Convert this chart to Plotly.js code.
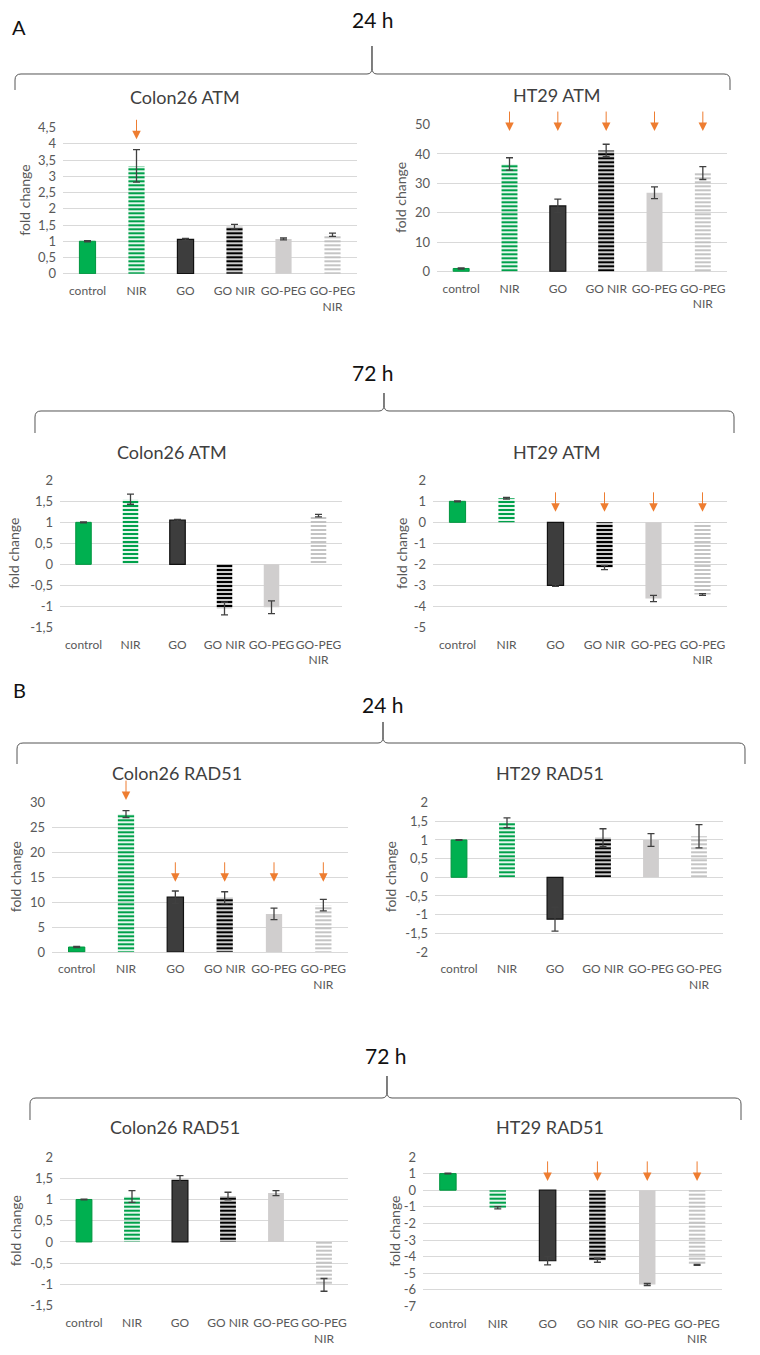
<!DOCTYPE html>
<html><head><meta charset="utf-8">
<script src="https://cdn.plot.ly/plotly-3.0.1.min.js"></script>
<style>html,body{margin:0;padding:0;background:#fff}#chart{width:760px;height:1355px}</style>
</head><body><div id="chart"></div>
<script>
// ---------- DATA ----------
const categories = ['control', 'NIR', 'GO', 'GO NIR', 'GO-PEG', 'GO-PEG NIR'];
const categoryLabels = ['control', 'NIR', 'GO', 'GO NIR', 'GO-PEG', 'GO-PEG<br>NIR'];

const atm24Colon26 = [1.0, 3.32, 1.06, 1.45, 1.07, 1.2];
const atm24Colon26Err = [0.02, 0.5, 0.03, 0.07, 0.03, 0.05];
const atm24HT29 = [1.0, 36.6, 22.3, 41.2, 26.8, 33.5];
const atm24HT29Err = [0.2, 2.1, 2.3, 2.1, 2.0, 2.2];
const atm72Colon26 = [1.0, 1.55, 1.05, -1.05, -1.02, 1.16];
const atm72Colon26Err = [0.01, 0.12, 0.02, 0.15, 0.15, 0.03];
const atm72HT29 = [1.0, 1.15, -3.0, -2.15, -3.62, -3.43];
const atm72HT29Err = [0.02, 0.04, 0.04, 0.1, 0.15, 0.04];
const rad24Colon26 = [1.0, 27.7, 11.0, 10.9, 7.65, 9.4];
const rad24Colon26Err = [0.1, 0.7, 1.25, 1.2, 1.15, 1.15];
const rad24HT29 = [1.0, 1.46, -1.12, 1.06, 1.0, 1.1];
const rad24HT29Err = [0.01, 0.13, 0.32, 0.24, 0.17, 0.31];
const rad72Colon26 = [1.0, 1.07, 1.45, 1.08, 1.15, -1.01];
const rad72Colon26Err = [0.01, 0.14, 0.11, 0.09, 0.06, 0.15];
const rad72HT29 = [1.0, -1.06, -4.25, -4.22, -5.68, -4.5];
const rad72HT29Err = [0.02, 0.07, 0.25, 0.12, 0.06, 0.03];

const panelTitles = ['Colon26 ATM', 'HT29 ATM', 'Colon26 ATM', 'HT29 ATM', 'Colon26 RAD51', 'HT29 RAD51', 'Colon26 RAD51', 'HT29 RAD51'];

const ticksHalf45 = [0, 0.5, 1, 1.5, 2, 2.5, 3, 3.5, 4, 4.5];
const ticksHalf45Text = ['0', '0,5', '1', '1,5', '2', '2,5', '3', '3,5', '4', '4,5'];
const ticks0to50 = [0, 10, 20, 30, 40, 50];
const ticks0to50Text = ['0', '10', '20', '30', '40', '50'];
const ticksM15to2 = [-1.5, -1, -0.5, 0, 0.5, 1, 1.5, 2];
const ticksM15to2Text = ['-1,5', '-1', '-0,5', '0', '0,5', '1', '1,5', '2'];
const ticksM5to2 = [-5, -4, -3, -2, -1, 0, 1, 2];
const ticksM5to2Text = ['-5', '-4', '-3', '-2', '-1', '0', '1', '2'];
const ticks0to30 = [0, 5, 10, 15, 20, 25, 30];
const ticks0to30Text = ['0', '5', '10', '15', '20', '25', '30'];
const ticksM2to2 = [-2, -1.5, -1, -0.5, 0, 0.5, 1, 1.5, 2];
const ticksM2to2Text = ['-2', '-1,5', '-1', '-0,5', '0', '0,5', '1', '1,5', '2'];
const ticksM7to2 = [-7, -6, -5, -4, -3, -2, -1, 0, 1, 2];
const ticksM7to2Text = ['-7', '-6', '-5', '-4', '-3', '-2', '-1', '0', '1', '2'];

// significance arrows: categories marked, and the value where the arrow tip sits
const arrowsAtm24Colon26 = ['NIR'];
const arrowsAtm24HT29 = ['NIR', 'GO', 'GO NIR', 'GO-PEG', 'GO-PEG NIR'];
const arrowsAtm72HT29 = ['GO', 'GO NIR', 'GO-PEG', 'GO-PEG NIR'];
const arrowsRad24Colon26High = ['NIR'];
const arrowsRad24Colon26 = ['GO', 'GO NIR', 'GO-PEG', 'GO-PEG NIR'];
const arrowsRad72HT29 = ['GO', 'GO NIR', 'GO-PEG', 'GO-PEG NIR'];

// ---------- STYLE / LAYOUT ----------
const W = 760, H = 1355;
const fx = x => x / W, fy = y => 1 - y / H;
const FONT = 'Lato, "Open Sans", sans-serif';

const barColor = ['#00B050', '#00A04A', '#3D3D3D', '#000000', '#D0CECE', '#BEBEBE'];
const barShape = ['', '-', '', '-', '', '-'];
const barSolidity = [0.5, 0.55, 0.5, 0.6, 0.5, 0.45];
const barLineColor = ['#00953F', 'rgba(0,0,0,0)', '#111111', 'rgba(0,0,0,0)', '#D0CECE', 'rgba(0,0,0,0)'];
const barLineWidth = [1, 0, 1.2, 0, 0, 0];

const panels = [
  {v: atm24Colon26, e: atm24Colon26Err, tv: ticksHalf45, tt: ticksHalf45Text, box: [63, 357, 127.3, 274], tpos: [185, 97], ytx: 25,
   arrows: [[arrowsAtm24Colon26, 4.14]]},
  {v: atm24HT29, e: atm24HT29Err, tv: ticks0to50, tt: ticks0to50Text, box: [437, 727, 124.3, 271.7], tpos: [557, 95], ytx: 400,
   arrows: [[arrowsAtm24HT29, 47.8]]},
  {v: atm72Colon26, e: atm72Colon26Err, tv: ticksM15to2, tt: ticksM15to2Text, box: [60, 342, 480, 627.7], tpos: [172, 452], ytx: 14,
   arrows: []},
  {v: atm72HT29, e: atm72HT29Err, tv: ticksM5to2, tt: ticksM5to2Text, box: [433, 727, 480, 627.8], tpos: [557, 452], ytx: 402,
   arrows: [[arrowsAtm72HT29, 0.5]]},
  {v: rad24Colon26, e: rad24Colon26Err, tv: ticks0to30, tt: ticks0to30Text, box: [52, 348, 802.3, 952.3], tpos: [177, 773], ytx: 15,
   arrows: [[arrowsRad24Colon26High, 30.5], [arrowsRad24Colon26, 14.1]]},
  {v: rad24HT29, e: rad24HT29Err, tv: ticksM2to2, tt: ticksM2to2Text, box: [435, 723, 802.3, 952.3], tpos: [550, 773], ytx: 390,
   arrows: []},
  {v: rad72Colon26, e: rad72Colon26Err, tv: ticksM15to2, tt: ticksM15to2Text, box: [60, 348, 1156.7, 1306], tpos: [175, 1127], ytx: 15,
   arrows: []},
  {v: rad72HT29, e: rad72HT29Err, tv: ticksM7to2, tt: ticksM7to2Text, box: [423, 722, 1156.7, 1306.7], tpos: [550, 1127], ytx: 395,
   arrows: [[arrowsRad72HT29, 0.56]]}
];

const traces = [];
const layout = {
  width: W, height: H, margin: {l: 0, r: 0, t: 0, b: 0},
  paper_bgcolor: '#fff', plot_bgcolor: '#fff', showlegend: false,
  bargap: 0.67, font: {family: FONT, color: '#595959'},
  annotations: [], shapes: []
};

panels.forEach((p, i) => {
  const k = i === 0 ? '' : String(i + 1);
  const [l, r, t, b] = p.box;
  traces.push({
    type: 'bar', x: categories, y: p.v, xaxis: 'x' + k, yaxis: 'y' + k,
    marker: {
      color: barColor,
      line: {color: barLineColor, width: barLineWidth},
      pattern: {shape: barShape, fillmode: 'replace', bgcolor: '#ffffff', size: 4, solidity: barSolidity}
    },
    error_y: {type: 'data', array: p.e, visible: true, color: '#404040', thickness: 1.3, width: 3.5},
    hoverinfo: 'x+y'
  });
  const lo = p.tv[0], hi = p.tv[p.tv.length - 1], pad = (hi - lo) * 0.002;
  layout['xaxis' + k] = {
    domain: [fx(l), fx(r)], anchor: 'y' + k, type: 'category',
    tickmode: 'array', tickvals: categories, ticktext: categoryLabels, tickangle: 0,
    showgrid: false, zeroline: false, showline: false, ticks: '', ticklabelstandoff: 8,
    tickfont: {family: FONT, size: 12, color: '#595959'}, fixedrange: true
  };
  layout['yaxis' + k] = {
    domain: [fy(b), fy(t)], anchor: 'x' + k, range: [lo - pad, hi + pad],
    tickmode: 'array', tickvals: p.tv, ticktext: p.tt,
    showgrid: true, gridcolor: '#D9D9D9', gridwidth: 1,
    zeroline: true, zerolinecolor: '#D9D9D9', zerolinewidth: 1,
    showline: false, ticks: '', ticklabelstandoff: 6,
    tickfont: {family: FONT, size: 13, color: '#595959'}, fixedrange: true
  };
  layout.annotations.push({
    xref: 'paper', yref: 'paper', x: fx(p.tpos[0]), y: fy(p.tpos[1]), text: panelTitles[i],
    showarrow: false, xanchor: 'center', yanchor: 'middle', font: {family: FONT, size: 18, color: '#404040'}
  });
  layout.annotations.push({
    xref: 'paper', yref: 'paper', x: fx(p.ytx), y: fy((t + b) / 2), text: 'fold change', textangle: -90,
    showarrow: false, xanchor: 'center', yanchor: 'middle', font: {family: FONT, size: 14, color: '#595959'}
  });
  // arrow tips: value -> paper position through this panel's axis domain and range
  const toPaper = v => fy(b - (v - (lo - pad)) / ((hi + pad) - (lo - pad)) * (b - t));
  p.arrows.forEach(([cats, tip]) => {
    cats.forEach(c => layout.annotations.push({
      xref: 'x' + k, yref: 'paper', x: c, y: toPaper(tip), text: '', showarrow: true,
      ax: 0, ay: -21, arrowhead: 2, arrowsize: 1.7, arrowwidth: 1, arrowcolor: '#EE7D31'
    }));
  });
});

// headers and braces
function brace(xL, xR, xc, yTop, yH, yB) {
  const P = (x, y) => fx(x).toFixed(5) + ',' + fy(y).toFixed(5);
  const r = 6;
  return `M${P(xL, yB)} L${P(xL, yH + r)} Q${P(xL, yH)} ${P(xL + r, yH)} L${P(xc - 5, yH)} Q${P(xc, yH)} ${P(xc, yH - 6)} L${P(xc, yTop)} L${P(xc, yH - 6)} Q${P(xc, yH)} ${P(xc + 5, yH)} L${P(xR - r, yH)} Q${P(xR, yH)} ${P(xR, yH + r)} L${P(xR, yB)}`;
}
const braces = [
  [15, 730, 372, 46, 74, 90],
  [35, 734, 384, 393, 411, 433],
  [17, 745, 383, 722, 743, 764],
  [30, 741, 387, 1076, 1098, 1120]
];
braces.forEach(bb => layout.shapes.push({
  type: 'path', xref: 'paper', yref: 'paper', path: brace(...bb), line: {color: '#555555', width: 1}
}));
const headers = [
  ['A', 19, 27, 20], ['24 h', 372, 19, 21], ['72 h', 372, 372, 21], ['B', 19, 690, 20], ['24 h', 382, 705, 21], ['72 h', 385, 1055, 21]
];
headers.forEach(([txt, x, y, s]) => layout.annotations.push({
  xref: 'paper', yref: 'paper', x: fx(x), y: fy(y), text: txt, showarrow: false,
  xanchor: 'center', yanchor: 'middle', font: {family: FONT, size: s, color: '#111111'}
}));

Plotly.newPlot('chart', traces, layout, {displayModeBar: false, staticPlot: true});
</script>
</body></html>
